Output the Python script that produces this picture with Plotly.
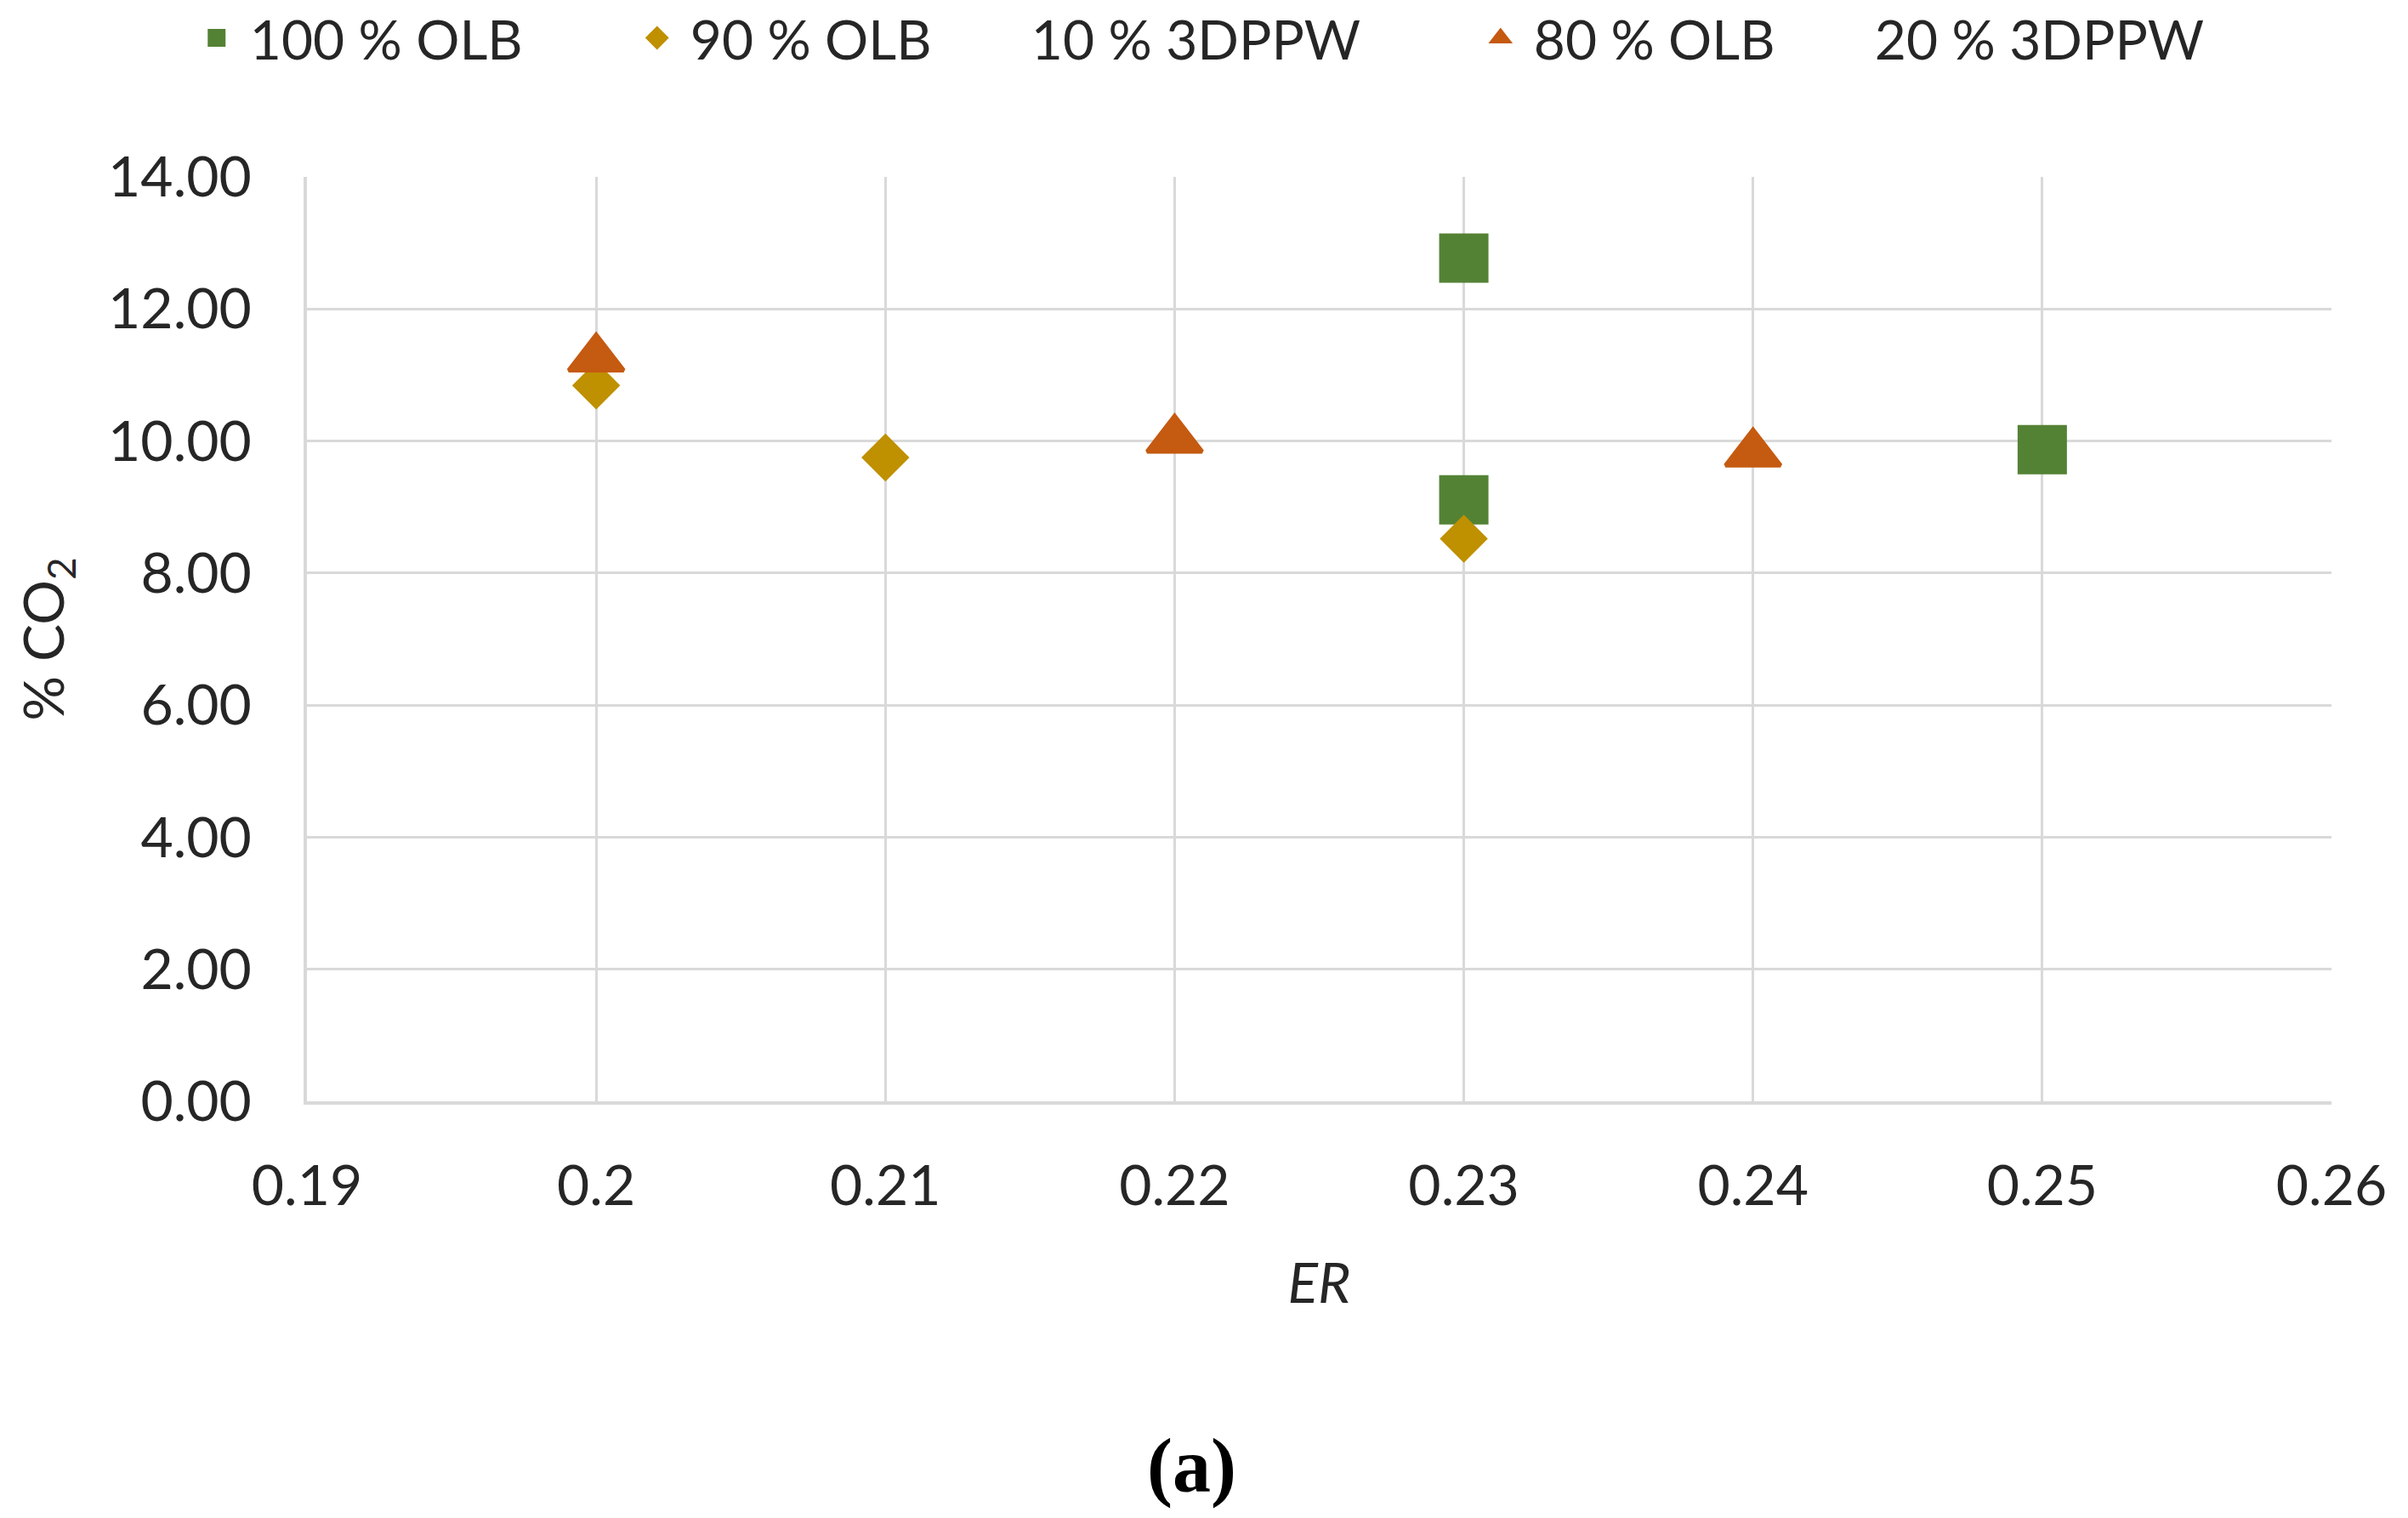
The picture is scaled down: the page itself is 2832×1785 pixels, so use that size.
import plotly.graph_objects as go

# ---- data ----
er_100 = [0.23, 0.23, 0.25]
co2_100 = [12.77, 9.11, 9.87]

er_90 = [0.20, 0.21, 0.23]
co2_90 = [10.84, 9.75, 8.52]

er_80 = [0.20, 0.22, 0.24]
co2_80 = [11.25, 10.02, 9.81]

x_ticks = [0.19, 0.20, 0.21, 0.22, 0.23, 0.24, 0.25, 0.26]
x_tick_labels = ["0.19", "0.2", "0.21", "0.22", "0.23", "0.24", "0.25", "0.26"]
y_ticks = [0, 2, 4, 6, 8, 10, 12, 14]
y_tick_labels = ["0.00", "2.00", "4.00", "6.00", "8.00", "10.00", "12.00", "14.00"]

GAP = "\u2003\u2003\u2004"
names = ["100 % OLB", "90 % OLB" + GAP + "10 % 3DPPW", "80 % OLB" + GAP + "20 % 3DPPW"]
colors = ["#548235", "#BF9000", "#C55A11"]

FONT = "Lato"
TXT = "#262626"

fig = go.Figure()
fig.add_trace(go.Scatter(x=er_100, y=co2_100, mode="markers", name=names[0], legendwidth=435,
                         marker=dict(symbol="square", size=53, color=colors[0],
                                     line=dict(width=5, color=colors[0]))))
fig.add_trace(go.Scatter(x=er_90, y=co2_90, mode="markers", name=names[1], legendwidth=909,
                         marker=dict(symbol="diamond", size=38, color=colors[1],
                                     line=dict(width=5, color=colors[1]))))
fig.add_trace(go.Scatter(x=er_80, y=co2_80, mode="markers", name=names[2],
                         marker=dict(symbol="triangle-up", size=56, color=colors[2],
                                     line=dict(width=5, color=colors[2]))))

# the page body adds an 8px offset; margins compensate so the plot area sits at x 361..2742, y 208..1295
fig.update_layout(
    width=2832, height=1785,
    paper_bgcolor="white", plot_bgcolor="white",
    margin=dict(l=353, r=98, t=200, b=498, autoexpand=False),
    font=dict(family=FONT, size=66, color=TXT),
    showlegend=True,
    legend=dict(orientation="h", x=-0.061, xanchor="left", y=1.15, yanchor="middle",
                font=dict(family=FONT, size=64, color=TXT), itemsizing="trace",
                itemwidth=68, entrywidthmode="pixels",
                bgcolor="rgba(0,0,0,0)"),
    xaxis=dict(range=[0.19, 0.26], tickvals=x_ticks, ticktext=x_tick_labels,
               showgrid=True, gridcolor="#D9D9D9", gridwidth=3,
               showline=True, linecolor="#D9D9D9", linewidth=4,
               zeroline=False, ticks="outside", ticklen=39, tickcolor="rgba(0,0,0,0)",
               tickfont=dict(family=FONT, size=66, color=TXT), automargin=False,
               title=dict(text="<i>ER</i>", font=dict(family=FONT, size=66, color=TXT), standoff=57)),
    yaxis=dict(range=[0, 14], tickvals=y_ticks, ticktext=y_tick_labels,
               showgrid=True, gridcolor="#D9D9D9", gridwidth=3,
               showline=True, linecolor="#D9D9D9", linewidth=4,
               zeroline=False, ticks="outside", ticklen=48, tickcolor="rgba(0,0,0,0)",
               tickfont=dict(family=FONT, size=66, color=TXT), automargin=False,
               title=dict(text="% CO<sub>2</sub>", font=dict(family=FONT, size=66, color=TXT), standoff=31)),
)

fig.add_annotation(text="<b>(a)</b>", xref="paper", yref="paper", x=0.437, y=-0.395,
                   xanchor="center", yanchor="middle", showarrow=False,
                   font=dict(family="Liberation Serif", size=90, color="black"))

fig.write_html("out.html")
